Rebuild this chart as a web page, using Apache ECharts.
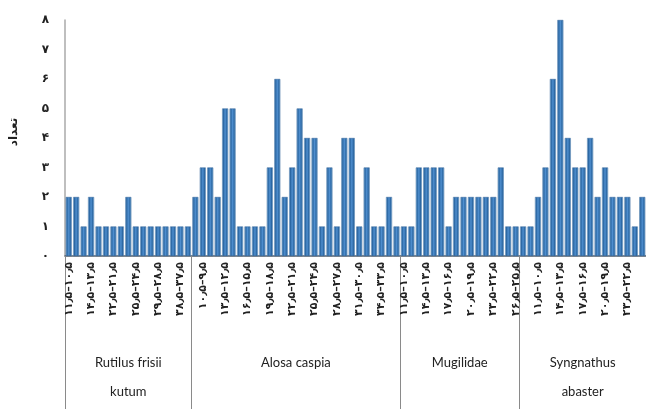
<!DOCTYPE html>
<html>
<head>
<meta charset="utf-8">
<script src="https://cdn.jsdelivr.net/npm/echarts@6/dist/echarts.min.js"></script>
<style>
  html, body { margin: 0; padding: 0; background: #fff; }
  #chart { width: 646px; height: 409px; }
</style>
</head>
<body>
<div id="chart"></div>
<script>
// ---- data ----
const groupNames = ['Rutilus frisii\nkutum', 'Alosa caspia', 'Mugilidae', 'Syngnathus\nabaster'];

// lower bound of each length class (cm), per group
const rutilusClasses = [10.5, 11.5, 12.5, 13.5, 15.5, 18.5, 21.5, 22.5, 23.5, 24.5, 26.5, 27.5, 28.5, 31.5, 34.5, 37.5, 39.5];
const alosaClasses = [8.5, 9.5, 10.5, 11.5, 12.5, 13.5, 14.5, 15.5, 16.5, 17.5, 18.5, 19.5, 20.5, 21.5, 22.5, 23.5, 24.5, 25.5, 26.5, 27.5, 28.5, 29.5, 30.5, 31.5, 32.5, 33.5, 34.5, 35.5];
const mugilClasses = [10.5, 11.5, 12.5, 13.5, 14.5, 15.5, 16.5, 17.5, 18.5, 19.5, 20.5, 21.5, 22.5, 23.5, 24.5, 25.5];
const syngClasses = [8.5, 9.5, 10.5, 11.5, 12.5, 13.5, 14.5, 15.5, 16.5, 17.5, 18.5, 19.5, 20.5, 21.5, 22.5, 23.5, 24.5];

const rutilusCounts = [2, 2, 1, 2, 1, 1, 1, 1, 2, 1, 1, 1, 1, 1, 1, 1, 1];
const alosaCounts = [2, 3, 3, 2, 5, 5, 1, 1, 1, 1, 3, 6, 2, 3, 5, 4, 4, 1, 3, 1, 4, 4, 1, 3, 1, 1, 2, 1];
const mugilCounts = [1, 1, 3, 3, 3, 3, 1, 2, 2, 2, 2, 2, 2, 3, 1, 1];
const syngCounts = [1, 1, 2, 3, 6, 8, 4, 3, 3, 4, 2, 3, 2, 2, 2, 1, 2];

const yTicks = [0, 1, 2, 3, 4, 5, 6, 7, 8];

// ---- build ----
const faDigits = '۰۱۲۳۴۵۶۷۸۹';
const fa = s => String(s).replace(/\d/g, d => faDigits[d]).replace(/\./g, '٫');
const clsLabel = lo => fa((lo + 1).toFixed(1)) + '–' + fa(lo.toFixed(1));

const groupsClasses = [rutilusClasses, alosaClasses, mugilClasses, syngClasses];
const groupsCounts = [rutilusCounts, alosaCounts, mugilCounts, syngCounts];

const categories = [];
const counts = [];
const bounds = [];
const centers = [];
let start = 0;
groupsClasses.forEach((cl, gi) => {
  bounds.push(start);
  centers.push(start + cl.length / 2);
  cl.forEach(lo => categories.push(clsLabel(lo)));
  groupsCounts[gi].forEach(v => counts.push(v));
  start += cl.length;
});
const N = categories.length;

const chart = echarts.init(document.getElementById('chart'), null, { renderer: 'canvas' });

const barColor = new echarts.graphic.LinearGradient(0, 0, 1, 0, [
  { offset: 0, color: '#a6d0f0' },
  { offset: 0.22, color: '#2b67a3' },
  { offset: 0.5, color: '#4f8fcf' },
  { offset: 0.78, color: '#2b67a3' },
  { offset: 1, color: '#a6d0f0' }
]);

chart.setOption({
  animation: false,
  grid: { left: 63, right: 0, top: 20, bottom: 153, containLabel: false },
  xAxis: [
    {
      type: 'category',
      data: categories,
      boundaryGap: true,
      axisLine: { lineStyle: { color: '#55606b', width: 1.5 } },
      axisTick: { show: false },
      axisLabel: {
        interval: 2,
        rotate: 90,
        margin: 6,
        fontFamily: 'DejaVu Sans',
        fontWeight: 'bold',
        fontSize: 11,
        color: '#222'
      }
    },
    {
      type: 'value',
      position: 'bottom',
      min: 0,
      max: N,
      axisLine: { show: false },
      splitLine: { show: false },
      axisTick: { show: true, customValues: bounds, length: 153, lineStyle: { color: '#8a8a8a', width: 1 } },
      axisLabel: {
        customValues: centers,
        margin: 92,
        lineHeight: 29,
        fontFamily: 'Lato',
        fontSize: 13,
        color: '#222',
        formatter: v => {
          const i = centers.findIndex(c => Math.abs(c - v) < 1e-6);
          return i >= 0 ? groupNames[i] : '';
        }
      }
    }
  ],
  yAxis: {
    type: 'value',
    min: 0,
    max: 8,
    interval: 1,
    name: 'تعداد',
    nameLocation: 'middle',
    nameRotate: 90,
    nameGap: 45,
    nameTextStyle: { fontFamily: 'DejaVu Sans', fontWeight: 'bold', fontSize: 12, color: '#222', padding: [0, 0, 0, 12] },
    axisLine: { show: true, lineStyle: { color: '#aaaaaa', width: 1.5 } },
    axisTick: { show: false },
    splitLine: { show: false },
    axisLabel: {
      margin: 16,
      fontFamily: 'DejaVu Sans',
      fontWeight: 'bold',
      fontSize: 12,
      color: '#222',
      customValues: yTicks,
      formatter: v => fa(v)
    }
  },
  series: [
    {
      type: 'bar',
      xAxisIndex: 0,
      data: counts,
      barWidth: 6,
      itemStyle: { color: barColor, borderColor: '#2a5d93', borderWidth: 0.5 }
    }
  ]
});
</script>
</body>
</html>
